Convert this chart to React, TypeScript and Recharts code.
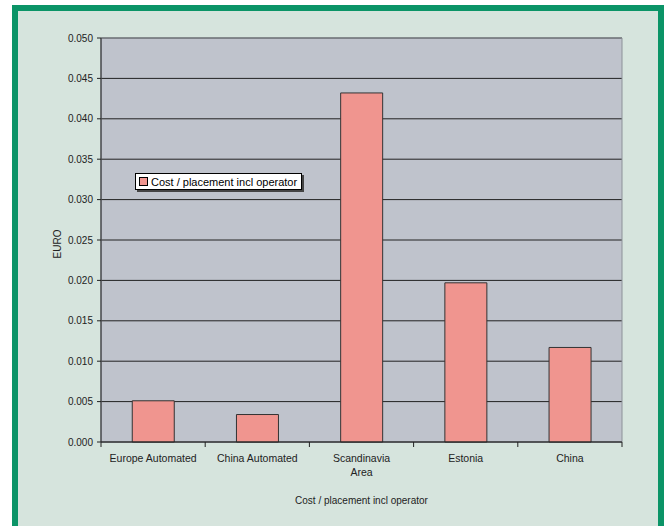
import { BarChart, Bar, XAxis, YAxis, CartesianGrid, Legend, ReferenceArea } from 'recharts'

const categories = ['Europe Automated', 'China Automated', 'Scandinavia Area', 'Estonia', 'China']
const tickLines = [['Europe Automated'], ['China Automated'], ['Scandinavia', 'Area'], ['Estonia'], ['China']]
const costPerPlacement = [0.0051, 0.0034, 0.0432, 0.0197, 0.0117]
const yTicks = [0, 0.005, 0.01, 0.015, 0.02, 0.025, 0.03, 0.035, 0.04, 0.045, 0.05]
const seriesName = 'Cost / placement incl operator'

const data = categories.map((name, i) => ({ name, cost: costPerPlacement[i] }))

const FONT = '"Liberation Sans", Arial, sans-serif'
const BAR_FILL = '#F0958F'

// label at the band centre, tick marks on the band edges (Excel style)
function CategoryTick(props: any) {
  const { x, y, payload, index, width } = props
  const half = payload?.offset ? payload.offset : width / categories.length / 2
  const lines = tickLines[index] ?? [String(payload.value)]
  const last = index === categories.length - 1
  return (
    <g>
      <line x1={x - half} x2={x - half} y1={y} y2={y + 5} stroke="#222" />
      {last && <line x1={x + half} x2={x + half} y1={y} y2={y + 5} stroke="#222" />}
      <text x={x} y={y + 20} textAnchor="middle" fontSize={10.5} fill="#222" fontFamily={FONT}>
        {lines.map((l, i) => (
          <tspan key={i} x={x} dy={i === 0 ? 0 : 14}>
            {l}
          </tspan>
        ))}
      </text>
    </g>
  )
}

function LegendBox() {
  return (
    <div
      style={{
        display: 'inline-flex',
        alignItems: 'center',
        background: '#fff',
        border: '1px solid #000',
        boxShadow: '2px 2px 0 #444',
        height: 15,
        padding: '0 4px 0 3px',
        fontFamily: FONT,
        fontSize: 11,
        color: '#000',
        whiteSpace: 'nowrap',
      }}
    >
      <span
        style={{
          display: 'inline-block',
          width: 7,
          height: 7,
          background: BAR_FILL,
          border: '1px solid #000',
          marginRight: 3,
        }}
      />
      {seriesName}
    </div>
  )
}

export default function App() {
  return (
    <div style={{ position: 'absolute', left: 0, top: 0, width: 664, height: 526, overflow: 'hidden', background: '#fff' }}>
      <div
        style={{
          position: 'absolute',
          left: 12,
          top: 5,
          width: 652,
          height: 540,
          boxSizing: 'border-box',
          border: '6px solid #0B9467',
          background: '#D6E4DD',
        }}
      />
      <div style={{ position: 'absolute', left: 0, top: 0 }}>
        <BarChart
          width={664}
          height={526}
          data={data}
          margin={{ top: 38, right: 42, left: 0, bottom: 44 }}
          barCategoryGap="30%"
          style={{ fontFamily: FONT }}
        >
          <CartesianGrid fill="#BFC3CC" stroke="#222" vertical={false} />
          <XAxis
            dataKey="name"
            type="category"
            interval={0}
            height={40}
            tickSize={0}
            tickMargin={0}
            tickLine={false}
            axisLine={{ stroke: '#222' }}
            tick={<CategoryTick />}
            label={{
              content: (p: any) => {
                const vb = p.viewBox
                return (
                  <text x={vb.x + vb.width / 2} y={vb.y + 62} textAnchor="middle" fontSize={10} fill="#222" fontFamily={FONT}>
                    {seriesName}
                  </text>
                )
              },
            }}
          />
          <YAxis
            width={101}
            domain={[0, 0.05]}
            ticks={yTicks}
            interval={0}
            tickSize={4}
            tickMargin={4}
            tickFormatter={(v: number) => v.toFixed(3)}
            tick={{ fill: '#222', fontSize: 10, fontFamily: FONT }}
            tickLine={{ stroke: '#222' }}
            axisLine={{ stroke: '#222' }}
            label={{
              content: (p: any) => {
                const vb = p.viewBox
                const cx = 57
                const cy = vb.y + vb.height / 2 + 4
                return (
                  <text
                    x={cx}
                    y={cy}
                    transform={`rotate(-90, ${cx}, ${cy})`}
                    textAnchor="middle"
                    dominantBaseline="central"
                    fontSize={10}
                    fill="#222"
                    fontFamily={FONT}
                  >
                    EURO
                  </text>
                )
              },
            }}
          />
          <ReferenceArea y1={0} y2={0.05} fill="none" stroke="#8C9099" strokeWidth={1} />
          <Legend
            layout="vertical"
            align="center"
            verticalAlign="middle"
            wrapperStyle={{ position: 'absolute', left: 135, top: 172, width: 'auto' }}
            content={() => <LegendBox />}
          />
          <Bar
            dataKey="cost"
            name={seriesName}
            fill={BAR_FILL}
            stroke="#333"
            strokeWidth={1}
            isAnimationActive={false}
          />
        </BarChart>
      </div>
    </div>
  )
}
